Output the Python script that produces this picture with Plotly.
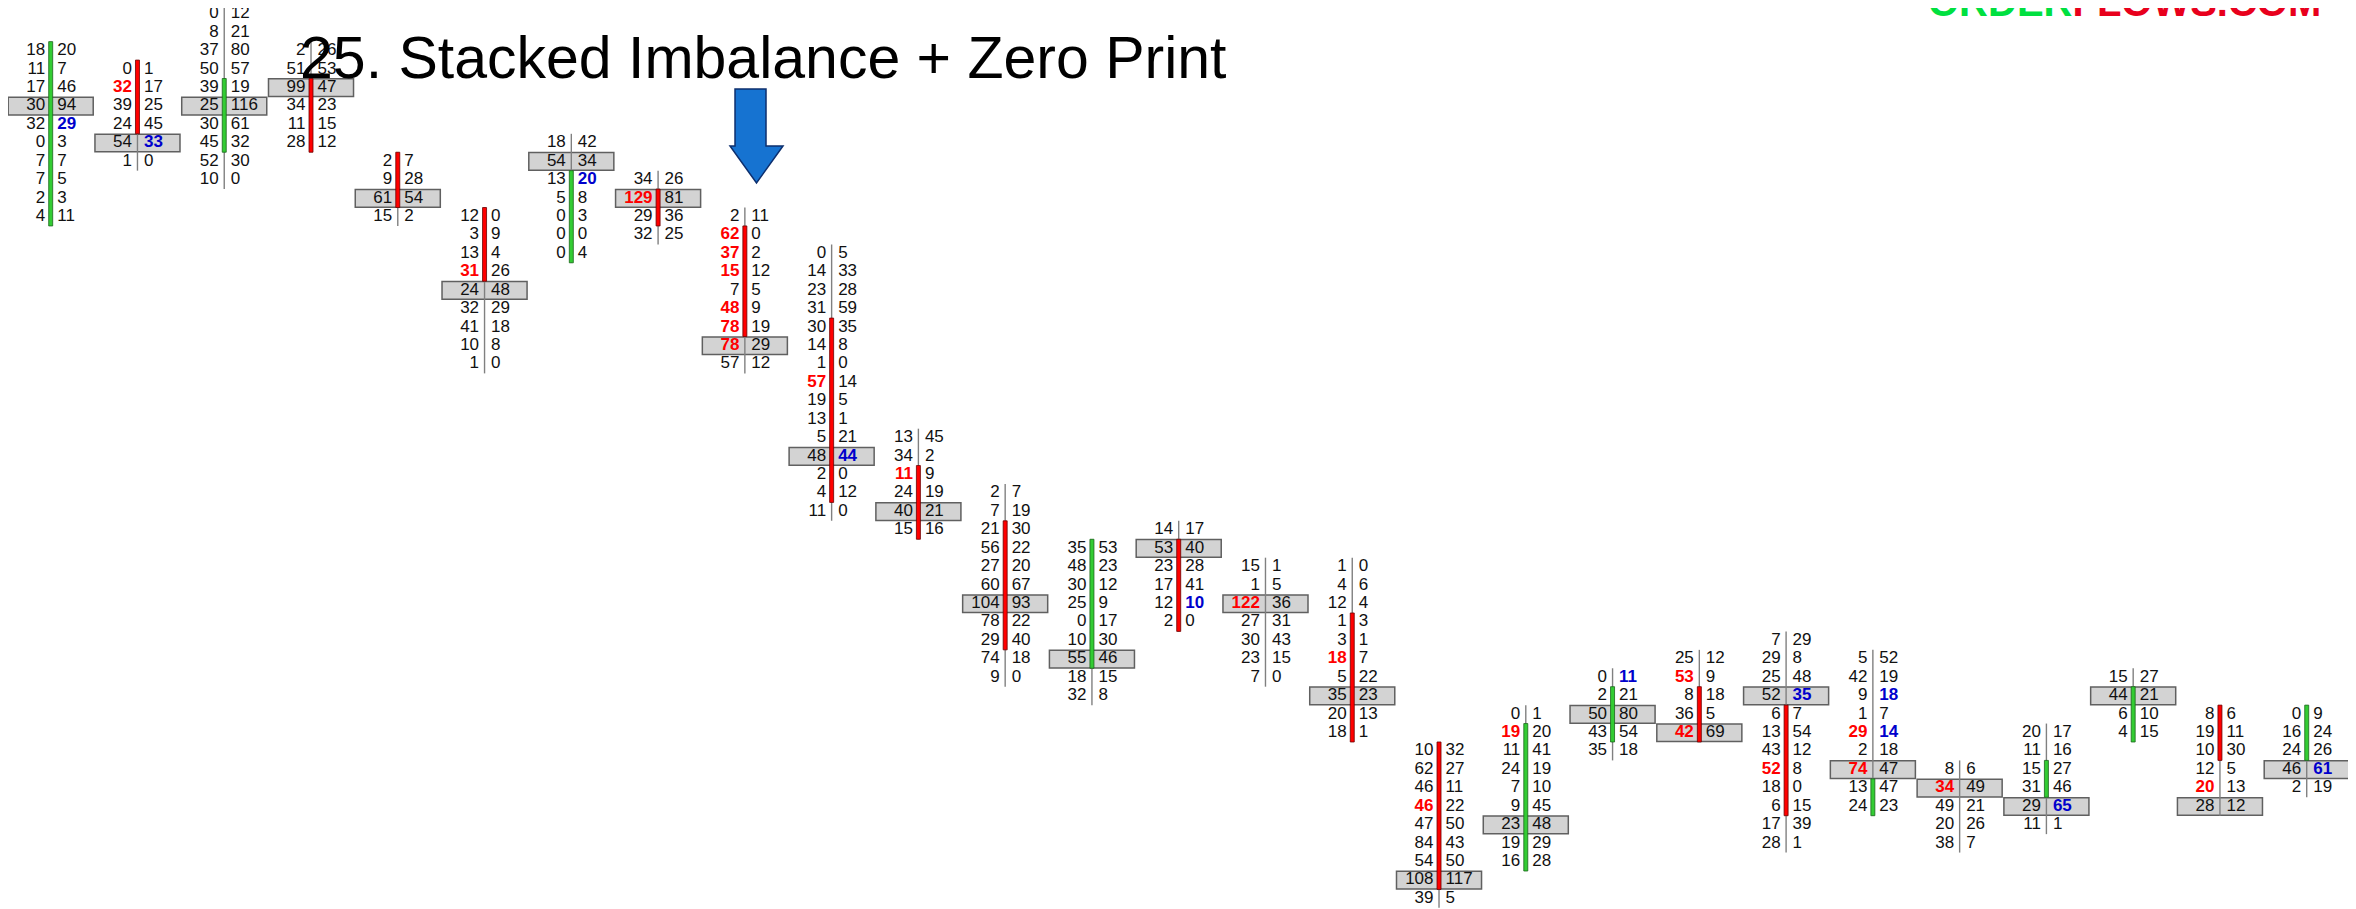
import plotly.graph_objects as go

# ---------------- data (footprint candles, price levels counted downward) ----------------
candle_top = [2, 3, 0, 2, 8, 11, 7, 9, 11, 13, 23, 26, 29, 28, 30, 30, 40, 38, 36, 35, 34, 35, 41, 39, 36, 38, 38]

bid_vol = [
    [18, 11, 17, 30, 32, 0, 7, 7, 2, 4],
    [0, 32, 39, 24, 54, 1],
    [0, 8, 37, 50, 39, 25, 30, 45, 52, 10],
    [2, 51, 99, 34, 11, 28],
    [2, 9, 61, 15],
    [12, 3, 13, 31, 24, 32, 41, 10, 1],
    [18, 54, 13, 5, 0, 0, 0],
    [34, 129, 29, 32],
    [2, 62, 37, 15, 7, 48, 78, 78, 57],
    [0, 14, 23, 31, 30, 14, 1, 57, 19, 13, 5, 48, 2, 4, 11],
    [13, 34, 11, 24, 40, 15],
    [2, 7, 21, 56, 27, 60, 104, 78, 29, 74, 9],
    [35, 48, 30, 25, 0, 10, 55, 18, 32],
    [14, 53, 23, 17, 12, 2],
    [15, 1, 122, 27, 30, 23, 7],
    [1, 4, 12, 1, 3, 18, 5, 35, 20, 18],
    [10, 62, 46, 46, 47, 84, 54, 108, 39],
    [0, 19, 11, 24, 7, 9, 23, 19, 16],
    [0, 2, 50, 43, 35],
    [25, 53, 8, 36, 42],
    [7, 29, 25, 52, 6, 13, 43, 52, 18, 6, 17, 28],
    [5, 42, 9, 1, 29, 2, 74, 13, 24],
    [8, 34, 49, 20, 38],
    [20, 11, 15, 31, 29, 11],
    [15, 44, 6, 4],
    [8, 19, 10, 12, 20, 28],
    [0, 16, 24, 46, 2],
]

ask_vol = [
    [20, 7, 46, 94, 29, 3, 7, 5, 3, 11],
    [1, 17, 25, 45, 33, 0],
    [12, 21, 80, 57, 19, 116, 61, 32, 30, 0],
    [26, 53, 47, 23, 15, 12],
    [7, 28, 54, 2],
    [0, 9, 4, 26, 48, 29, 18, 8, 0],
    [42, 34, 20, 8, 3, 0, 4],
    [26, 81, 36, 25],
    [11, 0, 2, 12, 5, 9, 19, 29, 12],
    [5, 33, 28, 59, 35, 8, 0, 14, 5, 1, 21, 44, 0, 12, 0],
    [45, 2, 9, 19, 21, 16],
    [7, 19, 30, 22, 20, 67, 93, 22, 40, 18, 0],
    [53, 23, 12, 9, 17, 30, 46, 15, 8],
    [17, 40, 28, 41, 10, 0],
    [1, 5, 36, 31, 43, 15, 0],
    [0, 6, 4, 3, 1, 7, 22, 23, 13, 1],
    [32, 27, 11, 22, 50, 43, 50, 117, 5],
    [1, 20, 41, 19, 10, 45, 48, 29, 28],
    [11, 21, 80, 54, 18],
    [12, 9, 18, 5, 69],
    [29, 8, 48, 35, 7, 54, 12, 8, 0, 15, 39, 1],
    [52, 19, 18, 7, 14, 18, 47, 47, 23],
    [6, 49, 21, 26, 7],
    [17, 16, 27, 46, 65, 1],
    [27, 21, 10, 15],
    [6, 11, 30, 5, 13, 12],
    [9, 24, 26, 61, 19],
]

poc_row = [3, 4, 5, 2, 2, 4, 1, 1, 7, 11, 4, 6, 6, 1, 2, 7, 7, 6, 2, 4, 3, 6, 1, 4, 1, 5, 3]

body_start = [0, 0, 4, 2, 0, 0, 2, 1, 1, 4, 2, 2, 0, 1, None, 3, 0, 1, 1, 2, 4, 7, None, 2, 1, 0, 0]
body_end = [9, 3, 7, 5, 2, 3, 6, 2, 6, 13, 5, 8, 6, 5, None, 9, 7, 8, 3, 4, 9, 8, None, 3, 3, 2, 2]
body_dir = ["up", "down", "up", "down", "down", "down", "up", "down", "down", "down", "down", "down",
            "up", "down", None, "down", "down", "up", "up", "down", "down", "up", None, "up", "up",
            "down", "up"]

bid_hi = [[], [1], [], [], [], [3], [], [1], [1, 2, 3, 5, 6, 7], [7], [2], [], [], [], [2], [5], [3],
          [1], [], [1, 4], [7], [4, 6], [1], [], [], [4], []]
ask_hi = [[4], [4], [], [], [], [], [2], [], [], [11], [], [], [], [4], [], [], [], [], [0], [], [3],
          [2, 4], [], [4], [], [], [3]]

TITLE = "25. Stacked Imbalance + Zero Print"

# ---------------- styling ----------------
OFF = 8                      # page body margin of the html page
W, H = 2356 - OFF, 909 - OFF
X0, XSTEP = 50.7 - OFF, 86.77   # pixel of candle 0 divider, pixel per candle
Y0, YSTEP = 14.0 - OFF, 18.43   # pixel of level 0, pixel per level
FONT = "Liberation Sans, Arial, sans-serif"
FS = 17
GREEN = "#33cc33"
RED = "#ff0000"
BLUE = "#0000cc"

GAP_L = 5.5 / XSTEP
GAP_R = 6.5 / XSTEP
HALF_BOX_W = 0.49
HALF_BOX_H = 0.48
BODY_HW = 2.0 / XSTEP

fig = go.Figure()
shapes = []

# POC boxes
for i, top in enumerate(candle_top):
    lv = top + poc_row[i]
    shapes.append(dict(type="rect", xref="x", yref="y", layer="below",
                       x0=i - HALF_BOX_W, x1=i + HALF_BOX_W,
                       y0=lv - HALF_BOX_H, y1=lv + HALF_BOX_H,
                       fillcolor="#d3d3d3", line=dict(color="#606060", width=1.5)))

# wicks (thin gray divider over whole candle)
wx, wy = [], []
for i, top in enumerate(candle_top):
    n = len(bid_vol[i])
    wx += [i, i, None]
    wy += [top - 0.5, top + n - 1 + 0.5, None]
fig.add_trace(go.Scatter(x=wx, y=wy, mode="lines", line=dict(color="#808080", width=1.4),
                         hoverinfo="skip", showlegend=False))

# bodies
for i, top in enumerate(candle_top):
    if body_dir[i] is None:
        continue
    col = GREEN if body_dir[i] == "up" else RED
    edge = "#1a661a" if body_dir[i] == "up" else "#6b0000"
    shapes.append(dict(type="rect", xref="x", yref="y", layer="above",
                       x0=i - BODY_HW, x1=i + BODY_HW,
                       y0=top + body_start[i] - 0.5, y1=top + body_end[i] + 0.5,
                       fillcolor=col, line=dict(color=edge, width=0.8)))

# text
groups = {}
def add(key, x, y, t):
    g = groups.setdefault(key, ([], [], []))
    g[0].append(x); g[1].append(y); g[2].append(str(t))

for i, top in enumerate(candle_top):
    for r, (b, a) in enumerate(zip(bid_vol[i], ask_vol[i])):
        lv = top + r
        add(("bid", "hi" if r in bid_hi[i] else "n"), i - GAP_L, lv, b)
        add(("ask", "hi" if r in ask_hi[i] else "n"), i + GAP_R, lv, a)

for (side, kind), (xs, ys, ts) in groups.items():
    if kind == "n":
        tf = dict(family=FONT, size=FS, color="#111111")
    else:
        tf = dict(family=FONT, size=FS, color=RED if side == "bid" else BLUE, weight="bold")
    fig.add_trace(go.Scatter(x=xs, y=ys, text=ts, mode="text",
                             textposition="middle left" if side == "bid" else "middle right",
                             textfont=tf, hoverinfo="skip", showlegend=False))

# arrow (decoration, pixel geometry given in reference-screen pixels)
def px(x, y):
    return (x - OFF) / W, 1 - (y - OFF) / H
arrow_pts = [(735, 89), (766, 89), (766, 146), (783, 146), (756.5, 183), (730, 146), (735, 146)]
path = "M " + " L ".join("%.5f,%.5f" % px(x, y) for x, y in arrow_pts) + " Z"
shapes.append(dict(type="path", xref="paper", yref="paper", path=path, layer="above",
                   fillcolor="#1673d1", line=dict(color="#0d2f6e", width=1.5)))

TS = 59
WMS = 40
tx, ty = px(298, 79 + 0.212 * TS + 1)
wmx, wmy = px(1926, 17 + 0.212 * WMS + 1)
annotations = [
    dict(text=TITLE, xref="paper", yref="paper", x=tx, y=ty,
         xanchor="left", yanchor="bottom", showarrow=False,
         font=dict(family=FONT, size=TS, color="#000000")),
    dict(text="<span style='color:#00e040'>ORDER</span><span style='color:#e8001c'>FLOWS.COM</span>",
         xref="paper", yref="paper", x=wmx, y=wmy, xanchor="left", yanchor="bottom",
         showarrow=False,
         font=dict(family="Liberation Sans, Arial", size=WMS, weight="bold")),
]

fig.update_layout(
    width=W, height=H, margin=dict(l=0, r=0, t=0, b=0),
    paper_bgcolor="white", plot_bgcolor="white", showlegend=False,
    xaxis=dict(range=[-X0 / XSTEP, (W - X0) / XSTEP], visible=False, fixedrange=True),
    yaxis=dict(range=[(H - Y0) / YSTEP, -Y0 / YSTEP], visible=False, fixedrange=True),
    shapes=shapes, annotations=annotations,
)

fig.write_html("out.html")
